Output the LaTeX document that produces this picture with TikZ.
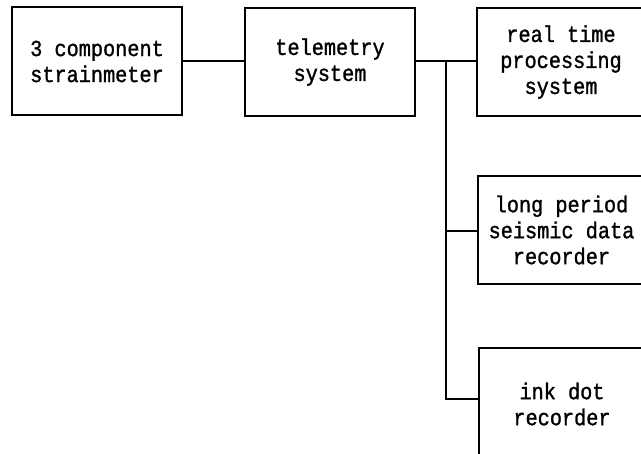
\documentclass[tikz,border=0pt]{standalone}
\usepackage{fontspec}
\newfontfamily\monofont[FakeStretch=0.88, FakeBold=1.2]{Liberation Mono}
\tikzset{
  unit/.style={draw, line width=2pt, align=center, inner sep=0pt,
    font=\monofont\fontsize{23}{26}\selectfont, text=black},
  link/.style={line width=2pt}
}
\begin{document}
\begin{tikzpicture}[x=1pt, y=-1pt]
  \useasboundingbox (0,0) rectangle (641,454);
  \clip (0,0) rectangle (641,454);
  \fill[white] (0,0) rectangle (641,454);

  % processing chain
  \node[unit, minimum width=170pt, minimum height=108pt] (sensor) at (97,61.5) {3 component\\strainmeter};
  \node[unit, minimum width=170pt, minimum height=108pt] (tele) at (330,62) {telemetry\\system};
  \node[unit, minimum width=168pt, minimum height=108pt] (rt) at (561,62) {real time\\processing\\system};
  \node[unit, minimum width=167pt, minimum height=108pt] (lp) at (561.5,230) {long period\\seismic data\\recorder};
  \node[unit, minimum width=166pt, minimum height=112pt] (ink) at (562,404) {ink dot\\recorder};

  % distribution bus
  \coordinate (split) at (446,61);
  \coordinate (tolp) at (446,231);
  \coordinate (toink) at (446,399);

  \draw[link] (sensor.east) -- (sensor.east -| tele.west);
  \draw[link] (tele.east |- split) -- (rt.west |- split);
  \draw[link] (split) -- (toink) -- (ink.west |- toink);
  \draw[link] (tolp) -- (lp.west |- tolp);
\end{tikzpicture}
\end{document}
